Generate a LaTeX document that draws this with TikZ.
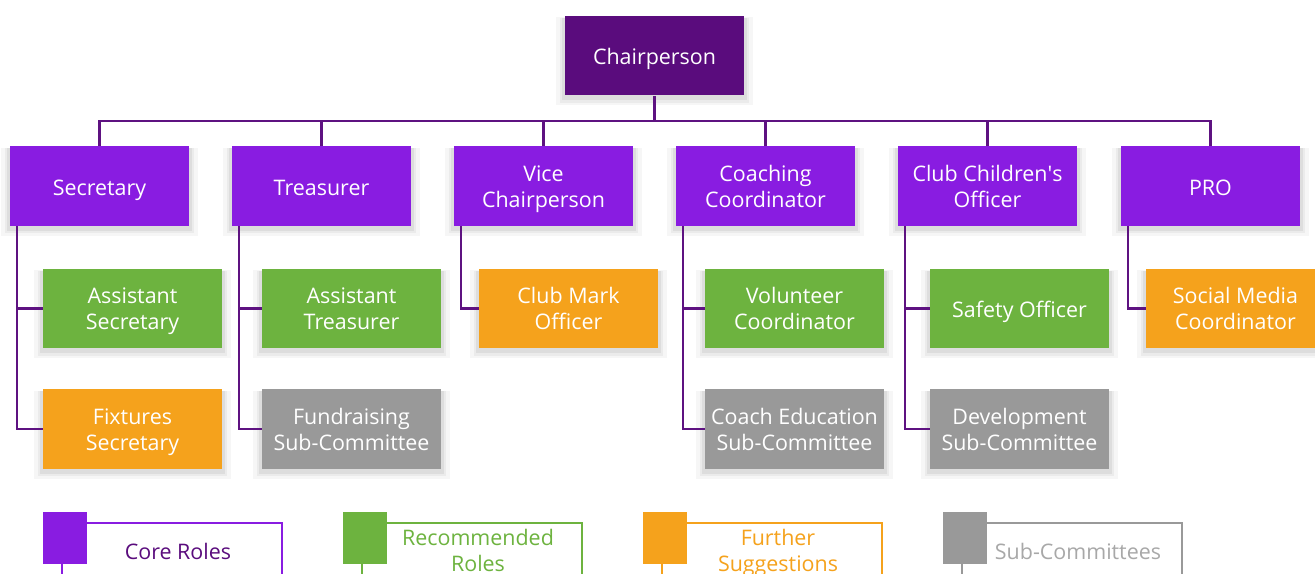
\documentclass[tikz,border=0pt]{standalone}
\usepackage{fontspec}
\setmainfont{Open Sans}
\usetikzlibrary{calc,shadows}

\definecolor{chairpurple}{HTML}{5A0C7D}
\definecolor{corepurple}{HTML}{891CE1}
\definecolor{linepurple}{HTML}{5E1281}
\definecolor{recgreen}{HTML}{6DB33F}
\definecolor{sugorange}{HTML}{F5A21C}
\definecolor{subgrey}{HTML}{999999}

\newcommand{\topstrut}{\rule{0pt}{\dimexpr0.7\baselineskip+4.5pt\relax}}
\newcommand{\toptwostrut}{\rule{0pt}{\dimexpr1.7\baselineskip+3.5pt\relax}}

\tikzset{
    role/.style={minimum width=3.58cm, minimum height=1.6cm, align=center,
        text=white, inner sep=1pt, font=\fontsize{12.2}{14.8}\selectfont,
        execute at begin node=\topstrut, execute at end node=\strut,
        general shadow={fill=black, opacity=0.035, shadow scale=1.10, shadow yshift=-3pt},
        general shadow={fill=black, opacity=0.045, shadow scale=1.06, shadow yshift=-2.5pt},
        general shadow={fill=black, opacity=0.06, shadow scale=1.03, shadow yshift=-2pt}},
    twoln/.style={execute at begin node=\toptwostrut},
    oneln/.style={},
    corebox/.style={role, fill=corepurple},
    chairbox/.style={role, fill=chairpurple},
    recbox/.style={role, fill=recgreen},
    sugbox/.style={role, fill=sugorange},
    subbox/.style={role, fill=subgrey},
    link/.style={draw=linepurple, line width=1.2pt},
    keysquare/.style={minimum width=0.88cm, minimum height=1.04cm, inner sep=0pt},
    keytext/.style={align=center, font=\fontsize{12.2}{14.8}\selectfont,
        execute at begin node=\topstrut, execute at end node=\strut},
}

\begin{document}
\begin{tikzpicture}[x=0.02cm, y=-0.02cm]
    \useasboundingbox[fill=white] (0,0) rectangle (1315,574);
    \clip (0,0) rectangle (1315,574);

    % Top
    \node[chairbox] (chair) at (654.5,55.5) {Chairperson};

    % Core roles
    \node[corebox] (sec)   at (99.5,186)  {Secretary};
    \node[corebox] (treas) at (321.5,186) {Treasurer};
    \node[corebox, twoln] (vice)  at (543.5,186) {Vice\\Chairperson};
    \node[corebox, twoln] (coach) at (765.5,186) {Coaching\\Coordinator};
    \node[corebox, twoln] (cco)   at (987.5,186) {Club Children\textquotesingle s\\Officer};
    \node[corebox] (pro)   at (1210.5,186) {PRO};

    % Bus line
    \coordinate (bus) at (0,121);
    \draw[link] (chair.south) -- (chair.south |- bus);
    \draw[link] (sec.north) |- (pro.north |- bus) -- (pro.north);
    \foreach \n in {treas,vice,coach,cco} {
        \draw[link] (\n.north) -- (\n.north |- bus);
    }

    % Second level
    \node[recbox, twoln] (asec)   at (132.5,308.5) {Assistant\\Secretary};
    \node[sugbox, twoln] (fix)    at (132.5,429)   {Fixtures\\Secretary};
    \node[recbox, twoln] (atreas) at (351.5,308.5) {Assistant\\Treasurer};
    \node[subbox, twoln] (fund)   at (351.5,429)   {Fundraising\\Sub-Committee};
    \node[sugbox, twoln] (mark)   at (568.5,308.5) {Club Mark\\Officer};
    \node[recbox, twoln] (vol)    at (794.5,308.5) {Volunteer\\Coordinator};
    \node[subbox, twoln] (cedu)   at (794.5,429)   {Coach Education\\Sub-Committee};
    \node[recbox] (safe)   at (1019.5,308.5) {Safety Officer};
    \node[subbox, twoln] (dev)    at (1019.5,429)  {Development\\Sub-Committee};
    \node[sugbox, twoln] (social) at (1235.5,308.5) {Social Media\\Coordinator};

    % Trunks
    \foreach \p/\c in {sec/asec, sec/fix, treas/atreas, treas/fund, vice/mark,
                       coach/vol, coach/cedu, cco/safe, cco/dev, pro/social} {
        \draw[link] ($(\p.south west)+(7,0)$) |- (\c.west);
    }

    % Legend
    \foreach \k/\x/\col/\txt/\tc/\ln in {
        core/43/corepurple/{Core Roles}/chairpurple/oneln,
        rec/343/recgreen/{Recommended\\Roles}/recgreen/twoln,
        sug/643/sugorange/{Further\\Suggestions}/sugorange/twoln,
        sub/943/subgrey/{Sub-Committees}/subgrey!85/oneln} {
        \draw[draw=\col, line width=1.2pt] (\x+19,523) rectangle (\x+239,600);
        \node[keysquare, fill=\col, anchor=north west] (\k sq) at (\x,512) {};
        \node[keytext, \ln, text=\tc] (\k txt) at (\x+135,550) {\txt};
    }
\end{tikzpicture}
\end{document}
